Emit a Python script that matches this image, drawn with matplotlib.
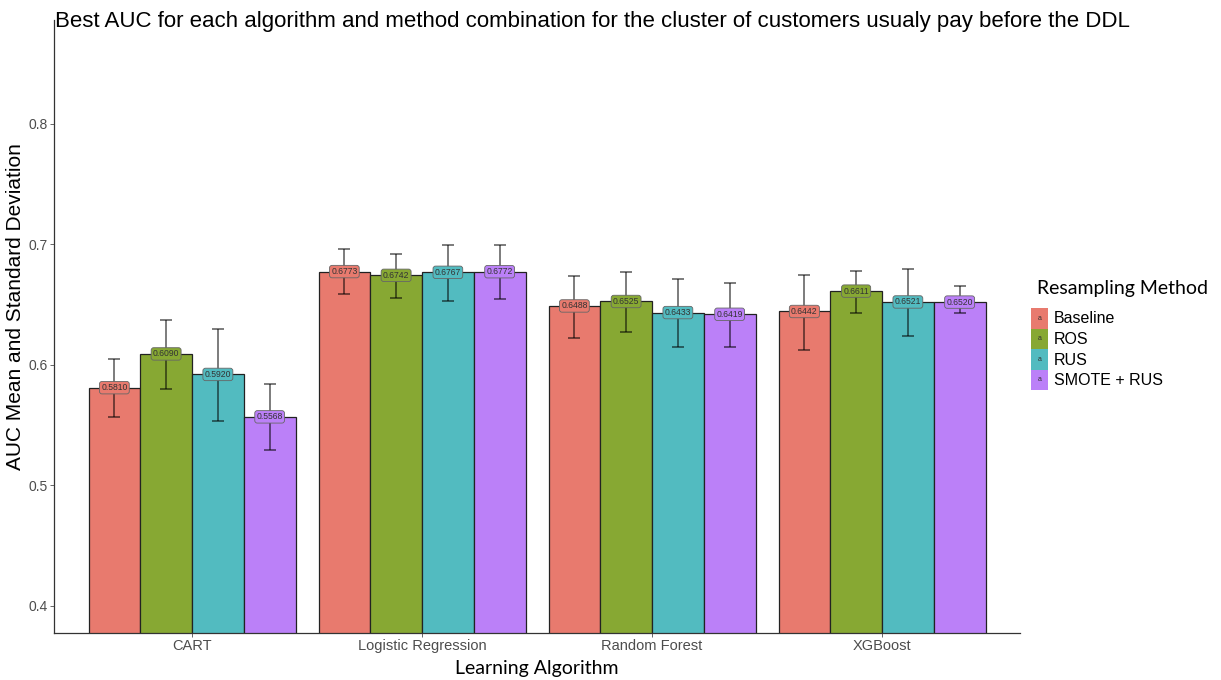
import numpy as np
import matplotlib
matplotlib.use("Agg")
import matplotlib.pyplot as plt
from matplotlib.patches import Patch, Rectangle
from matplotlib.legend_handler import HandlerBase
from matplotlib.text import Text

algorithms = ["CART", "Logistic Regression", "Random Forest", "XGBoost"]
methods = ["Baseline", "ROS", "RUS", "SMOTE + RUS"]
colors = ["#E87A6E", "#87A833", "#52BBC0", "#BB80F8"]

# best AUC per algorithm, one list per resampling method
baseline_auc = [0.5810, 0.6773, 0.6488, 0.6442]
ros_auc = [0.6090, 0.6742, 0.6525, 0.6611]
rus_auc = [0.5920, 0.6767, 0.6433, 0.6521]
smote_auc = [0.5568, 0.6772, 0.6419, 0.6520]

# error bar extent below / above the mean
baseline_lo = [0.0245, 0.0190, 0.0263, 0.0317]
baseline_hi = [0.0234, 0.0185, 0.0252, 0.0305]
ros_lo = [0.0290, 0.0185, 0.0253, 0.0184]
ros_hi = [0.0278, 0.0175, 0.0243, 0.0171]
rus_lo = [0.0386, 0.0237, 0.0289, 0.0282]
rus_hi = [0.0373, 0.0230, 0.0280, 0.0270]
smote_lo = [0.0279, 0.0223, 0.0270, 0.0088]
smote_hi = [0.0274, 0.0218, 0.0260, 0.0137]

means = [baseline_auc, ros_auc, rus_auc, smote_auc]
lows = [baseline_lo, ros_lo, rus_lo, smote_lo]
highs = [baseline_hi, ros_hi, rus_hi, smote_hi]

sans = "Liberation Sans"
human = "Lato"


class LabelKey(HandlerBase):
    # ggplot style label key: coloured square with a small "a"
    def create_artists(self, legend, orig_handle, xdescent, ydescent,
                       width, height, fontsize, trans):
        r = Rectangle((-xdescent, -ydescent), width, height,
                      facecolor=orig_handle.get_facecolor(), edgecolor="none",
                      transform=trans)
        t = Text(-xdescent + width / 2, -ydescent + height / 2, "a",
                 ha="center", va="center", fontsize=5, color="#333333",
                 family=sans, transform=trans)
        return [r, t]


fig = plt.figure(figsize=(12.21, 6.8), dpi=100)
ax = fig.add_axes([54 / 1221, 47 / 680, 966 / 1221, 613 / 680])

x = np.arange(1, len(algorithms) + 1)
w = 0.225
for i, m in enumerate(methods):
    pos = x + (i - 1.5) * w
    ax.bar(pos, means[i], width=w, bottom=0, color=colors[i],
           edgecolor="#222222", linewidth=0.9, zorder=2)
    ax.errorbar(pos, means[i], yerr=[lows[i], highs[i]], fmt="none",
                ecolor="black", alpha=0.65, elinewidth=1.1, capsize=4,
                capthick=1.1, zorder=3)
    for px, v in zip(pos, means[i]):
        ax.text(px, v, f"{v:.4f}", ha="center", va="center", fontsize=6.2,
                color="#333333", family=sans, zorder=4,
                bbox=dict(boxstyle="round,pad=0.2,rounding_size=0.3",
                          fc=colors[i], ec="#666666", lw=0.6))

ax.set_xlim(0.4, 4.6)
ax.set_ylim(0.3775, 0.886)
ax.set_yticks([0.4, 0.5, 0.6, 0.7, 0.8])
ax.set_yticklabels(["0.4", "0.5", "0.6", "0.7", "0.8"])
ax.set_xticks(x)
ax.set_xticklabels(algorithms)
for lab in ax.get_xticklabels():
    lab.set_family(sans)
    lab.set_fontsize(10.5)
    lab.set_color("#4D4D4D")
for lab in ax.get_yticklabels():
    lab.set_family(sans)
    lab.set_fontsize(10)
    lab.set_color("#4D4D4D")
ax.tick_params(length=3, width=0.6, color="#4D4D4D", pad=1.5)
for s in ["top", "right"]:
    ax.spines[s].set_visible(False)
for s in ["left", "bottom"]:
    ax.spines[s].set_linewidth(0.9)
    ax.spines[s].set_color("#333333")

ax.set_xlabel("Learning Algorithm", family=human, fontsize=14, labelpad=5)
fig.text(16 / 1221, 1 - 307 / 680, "AUC Mean and Standard Deviation",
         family=sans, fontsize=15, rotation=90, ha="center", va="center")

fig.text(55 / 1221, 1 - 21 / 680,
         "Best AUC for each algorithm and method combination for the cluster "
         "of customers usualy pay before the DDL",
         family=sans, fontsize=16, ha="left", va="center")

# legend title drawn on its own to get the ggplot gap above the keys
fig.text(1037 / 1221, 1 - 288 / 680, "Resampling Method", family=human,
         fontsize=14, ha="left", va="center")
handles = [Patch(facecolor=c) for c in colors]
leg = ax.legend(handles, methods, handler_map={Patch: LabelKey()},
                loc="upper left", bbox_to_anchor=(1031 / 1221, 1 - 308 / 680),
                bbox_transform=fig.transFigure, frameon=False,
                prop={"family": sans, "size": 11.5},
                handlelength=1.05, handleheight=1.6, labelspacing=0.0,
                handletextpad=0.4, borderpad=0, borderaxespad=0)

fig.savefig("out.png", dpi=100)
